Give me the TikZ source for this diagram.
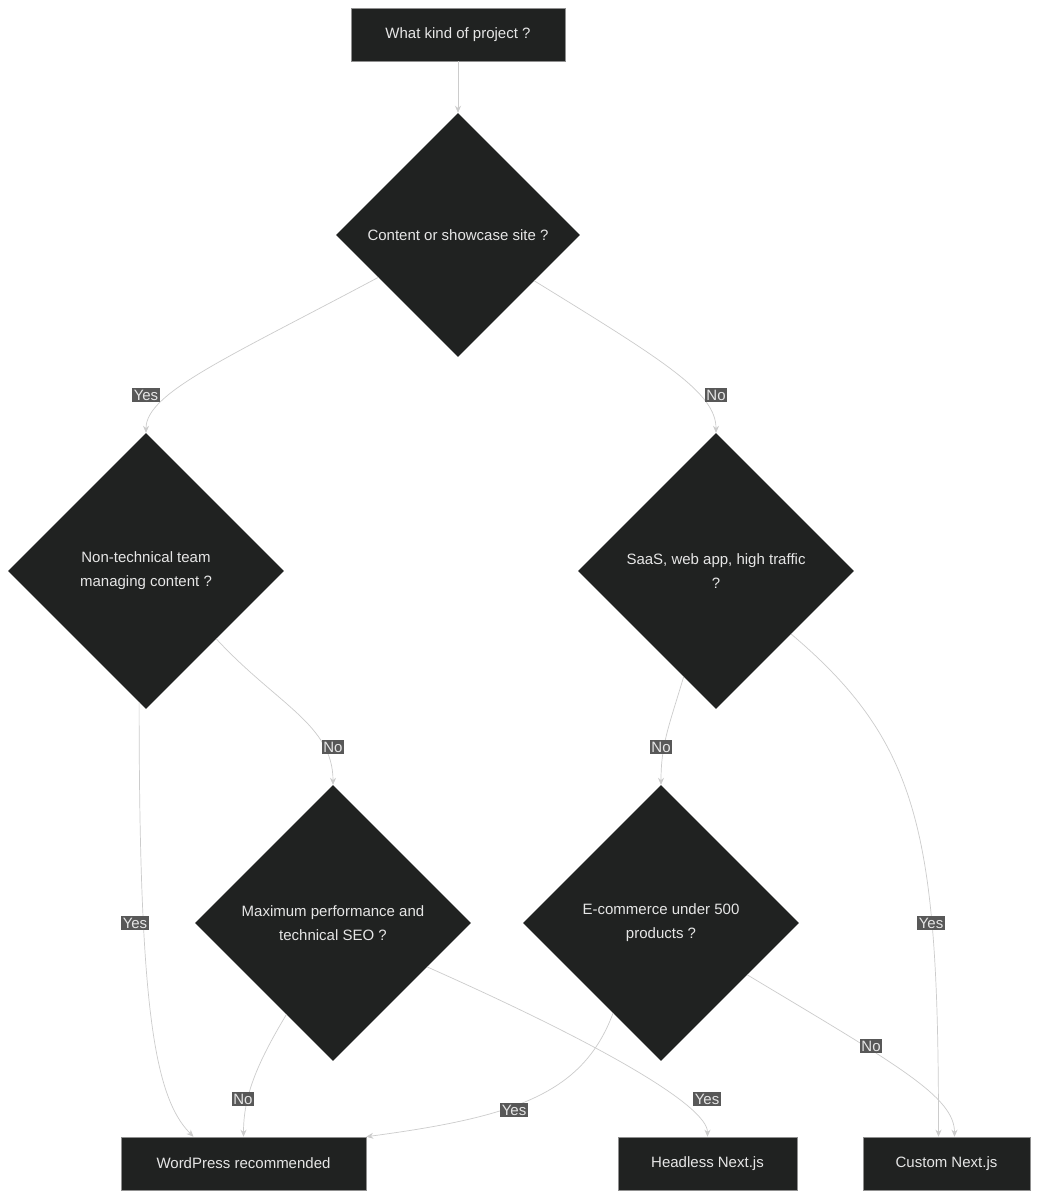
\documentclass[tikz,border=0pt]{standalone}
\usepackage{fontspec}
\setmainfont{Liberation Sans}
\usetikzlibrary{shapes.geometric,arrows.meta}
\definecolor{nodefill}{HTML}{202221}
\definecolor{edgec}{HTML}{CCCCCC}
\definecolor{lblfill}{HTML}{585858}
\definecolor{txt}{HTML}{E6E6E6}
\begin{document}
\begin{tikzpicture}[x=1pt,y=-1pt,
  every node/.style={font=\fontsize{15}{24}\selectfont, text=txt},
  box/.style={rectangle, fill=nodefill, draw=edgec!70!black, line width=0.6pt, minimum height=53pt, inner sep=0pt},
  dia/.style={diamond, fill=nodefill, aspect=1, inner sep=0pt, align=center, minimum width=#1, minimum height=#1},
  edge/.style={draw=edgec, line width=0.7pt, -{Stealth[length=7pt,width=6pt]}},
  lbl/.style={fill=lblfill, inner sep=1.5pt, text=txt}]
\useasboundingbox (0,0) rectangle (1039,1199);
\fill[white] (0,0) rectangle (1039,1199);
\node[box, minimum width=214pt] (top) at (458,34.5) {What kind of project ?};
\node[dia=244pt] (D1) at (458,235) {Content or showcase site ?};
\node[dia=276pt] (D2) at (146,571) {Non-technical team\\managing content ?};
\node[dia=276pt] (D3) at (716,571) {SaaS, web app, high traffic\\?};
\node[dia=276pt] (D4) at (333,923) {Maximum performance and\\technical SEO ?};
\node[dia=276pt] (D5) at (661,923) {E-commerce under 500\\products ?};
\node[box, minimum width=245pt] (R1) at (243.5,1163.5) {WordPress recommended};
\node[box, minimum width=179pt] (R2) at (707.5,1163.5) {Headless Next.js};
\node[box, minimum width=167pt] (R3) at (946.5,1163.5) {Custom Next.js};

\draw[edge] (top) -- (D1);
\draw[edge] (D1.208) .. controls +(-150,80) and +(0,-40) .. (D2.north);
\draw[edge] (D1.-31) .. controls +(130,80) and +(0,-40) .. (D3.north);
\draw[edge] (D2.-93) .. controls +(0,300) and +(-40,-40) .. ([xshift=-50pt]R1.north);
\draw[edge] (D2.-44) .. controls +(60,65) and +(0,-60) .. (D4.north);
\draw[edge] (D3.-107) .. controls +(-15,50) and +(0,-40) .. (D5.north);
\draw[edge] (D3.-40) .. controls +(130,110) and +(0,-300) .. ([xshift=-8pt]R3.north);
\draw[edge] (D4.-117) .. controls +(-30,50) and +(0,-40) .. (R1.north);
\draw[edge] (D4.-25) .. controls +(180,80) and +(0,-30) .. (R2.north);
\draw[edge] (D5.-118) .. controls +(-30,80) and +(150,-20) .. (R1.north east);
\draw[edge] (D5.-31) .. controls +(150,90) and +(0,-40) .. ([xshift=8pt]R3.north);

\node[lbl] (l1) at (146,395) {Yes};
\node[lbl] (l2) at (716,395) {No};
\node[lbl] (l3) at (135,923) {Yes};
\node[lbl] (l4) at (333,747) {No};
\node[lbl] (l5) at (661,747) {No};
\node[lbl] (l6) at (931,923) {Yes};
\node[lbl] (l7) at (243,1099) {No};
\node[lbl] (l8) at (707,1099) {Yes};
\node[lbl] (l9) at (514,1110) {Yes};
\node[lbl] (l10) at (871,1046) {No};
\end{tikzpicture}
\end{document}
